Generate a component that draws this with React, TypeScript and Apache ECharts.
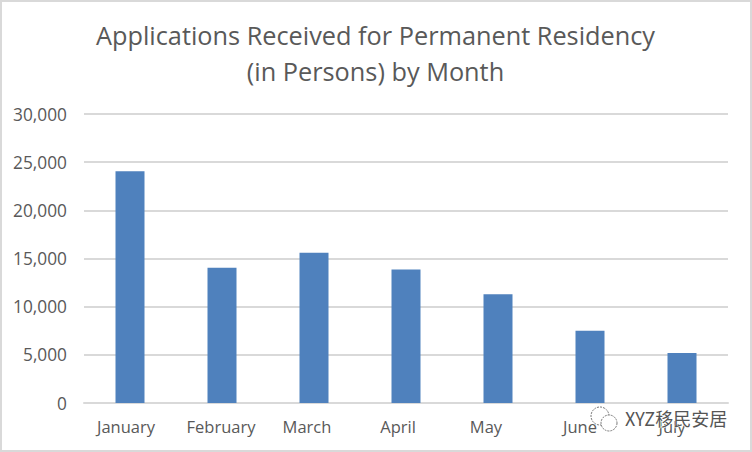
import React, { useEffect, useRef } from "react";
import * as echarts from "echarts";

const categories = ["January", "February", "March", "April", "May", "June", "July"];
const values = [24050, 14050, 15600, 13850, 11300, 7500, 5200];
const labelShift = [4, 1, 7, 8, 12, 10, 10];
const yTicks = { min: 0, max: 30000, interval: 5000 };
const titleLines = "Applications Received for Permanent Residency\n(in Persons) by Month";
const watermark = "XYZ移民安居";
const font = "Open Sans";
const textColor = "#595959";
const lineColor = "#d9d9d9";

export default function App() {
  const ref = useRef<HTMLDivElement>(null);
  useEffect(() => {
    const chart = echarts.init(ref.current!, undefined, { renderer: "svg" });
    const icon = { fill: "#ffffff", stroke: "#777777", lineWidth: 1, lineDash: [2, 1] };
    chart.setOption({
      animation: false,
      backgroundColor: "#ffffff",
      title: {
        text: titleLines,
        left: 370.5,
        top: 12,
        textAlign: "center",
        textStyle: { fontFamily: font, fontSize: 25.3, fontWeight: 400, color: textColor, lineHeight: 36 },
      },
      grid: { left: 84, right: 24, top: 114, bottom: 49 },
      xAxis: {
        type: "category",
        data: categories.map((value, i) => ({
          value,
          textStyle: { padding: [0, labelShift[i] * 2, 0, 0] },
        })),
        axisTick: { show: false },
        axisLine: { lineStyle: { color: lineColor, width: 2 } },
        axisLabel: { fontFamily: font, fontSize: 16.5, color: textColor, margin: 15, interval: 0 },
      },
      yAxis: {
        type: "value",
        ...yTicks,
        axisLine: { show: false },
        axisTick: { show: false },
        splitLine: { lineStyle: { color: lineColor, width: 2 } },
        axisLabel: {
          fontFamily: font,
          fontSize: 17.3,
          color: textColor,
          margin: 17,
          formatter: (v: number) => v.toLocaleString("en-US"),
        },
      },
      series: [{ type: "bar", data: values, barWidth: 29, itemStyle: { color: "#4f81bd" } }],
      graphic: [
        {
          type: "rect",
          silent: true,
          shape: { x: 1, y: 1, width: 750, height: 450 },
          style: { fill: "none", stroke: lineColor, lineWidth: 2 },
        },
        { type: "circle", shape: { cx: 600, cy: 416, r: 9 }, style: icon },
        { type: "circle", shape: { cx: 609, cy: 423, r: 8 }, style: icon },
        {
          type: "text",
          x: 625,
          y: 409,
          z: 10,
          style: {
            text: watermark,
            fontFamily: "Noto Sans CJK SC",
            fontSize: 18,
            fill: "#555555",
            stroke: "#ffffff",
            lineWidth: 1,
          },
        },
      ],
    });
    return () => chart.dispose();
  }, []);
  return <div ref={ref} style={{ width: 752, height: 452, position: "fixed", left: 0, top: 0 }} />;
}
